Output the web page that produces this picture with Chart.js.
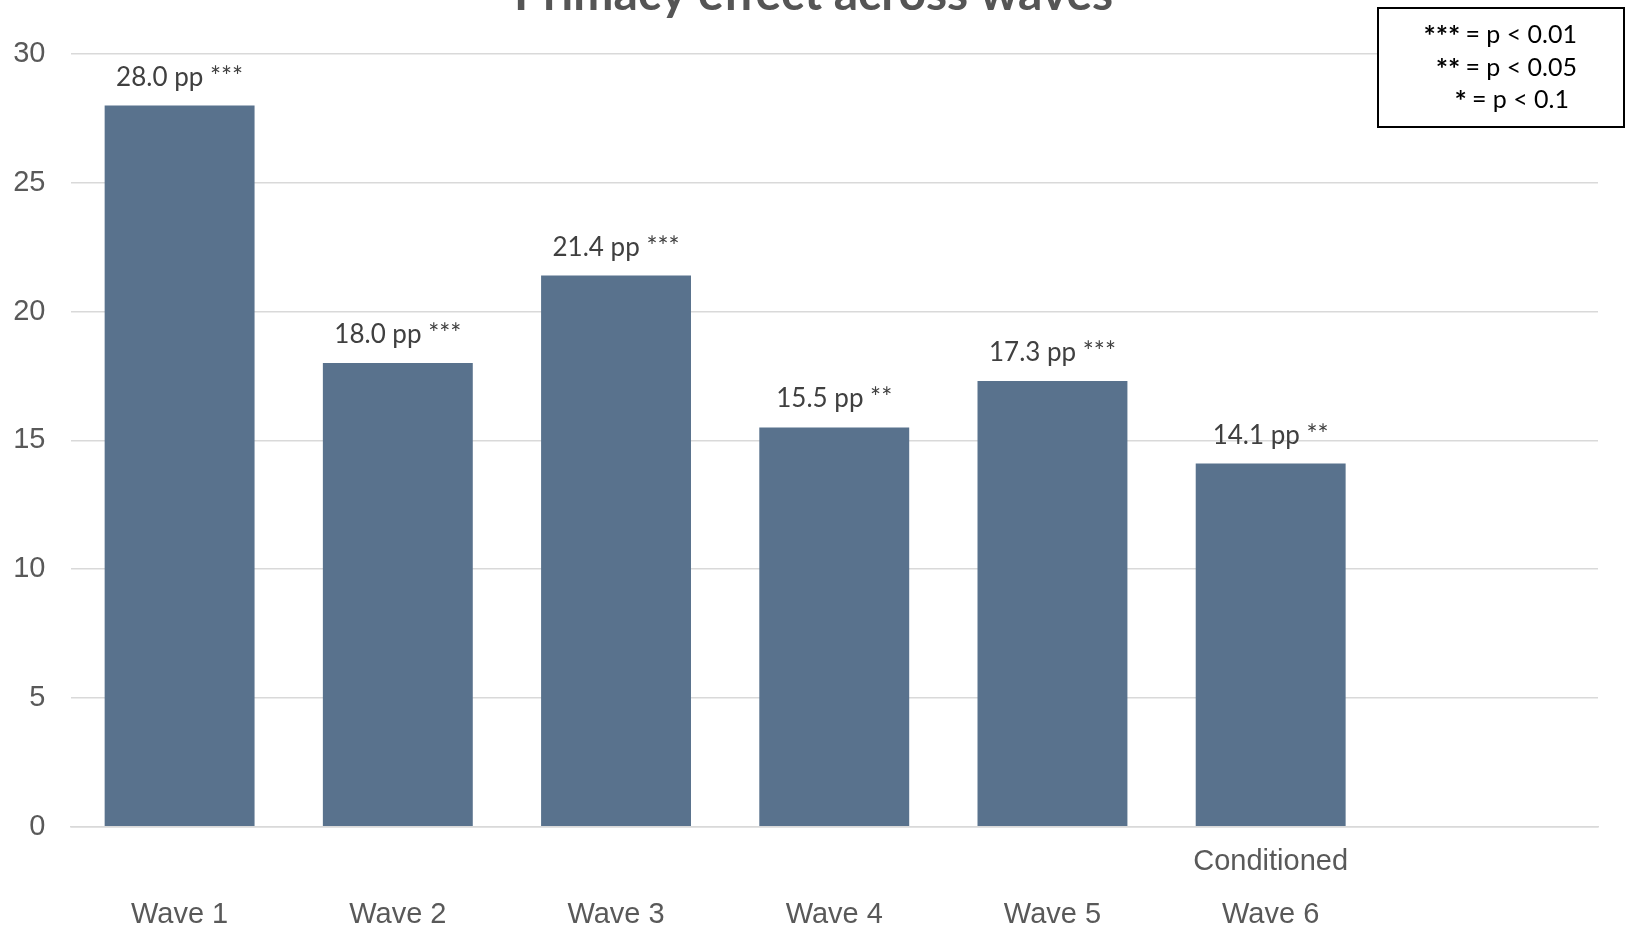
<!DOCTYPE html>
<html>
<head>
<meta charset="utf-8">
<title>Primacy effect across waves</title>
<script src="https://cdn.jsdelivr.net/npm/chart.js@4"></script>
<style>
  html, body { margin: 0; padding: 0; background: #ffffff; overflow: hidden; }
  #chart { display: block; }
</style>
</head>
<body>
<canvas id="chart" width="1627" height="930"></canvas>
<script>
// Survey waves (the last slot is left empty on purpose)
const waves = ['Wave 1', 'Wave 2', 'Wave 3', 'Wave 4', 'Wave 5', 'Wave 6', ''];
const waveNotes = ['', '', '', '', '', 'Conditioned', ''];
// Primacy effect in percentage points
const effectPP = [28.0, 18.0, 21.4, 15.5, 17.3, 14.1, null];
const significance = ['***', '***', '***', '**', '***', '**', ''];
// Y axis range
const yMin = 0;
const yMax = 30;
const yStep = 5;
// Significance key
const keyStars = ['***', '**', '*'];
const keyText = ['= p < 0.01', '= p < 0.05', '= p < 0.1'];

const chartTitle = 'Primacy effect across waves';
const BAR_COLOR = '#59728d';
const GRID_COLOR = '#d9d9d9';
const AXIS_TEXT = '#595959';

const titlePlugin = {
  id: 'topTitle',
  afterDraw(chart) {
    const { ctx } = chart;
    ctx.save();
    ctx.font = 'bold 48px Lato';
    ctx.fillStyle = '#555555';
    ctx.textAlign = 'center';
    ctx.textBaseline = 'alphabetic';
    ctx.fillText(chartTitle, chart.width / 2, 10);
    ctx.restore();
  }
};

const barLabelPlugin = {
  id: 'barLabels',
  afterDatasetsDraw(chart) {
    const { ctx } = chart;
    const meta = chart.getDatasetMeta(0);
    ctx.save();
    ctx.font = '26px Lato';
    ctx.fillStyle = '#404040';
    ctx.textAlign = 'center';
    ctx.textBaseline = 'alphabetic';
    meta.data.forEach((bar, i) => {
      const v = effectPP[i];
      if (v === null || v === undefined) return;
      ctx.fillText(v.toFixed(1) + ' pp ' + significance[i], bar.x, bar.y - 20);
    });
    ctx.restore();
  }
};

const keyPlugin = {
  id: 'sigKey',
  afterDraw(chart) {
    const { ctx } = chart;
    const box = { x: 1378, y: 8, w: 246, h: 119 };
    const rightEdges = [1577, 1577, 1569];
    const baselines = [43, 76, 108];
    ctx.save();
    ctx.fillStyle = '#ffffff';
    ctx.fillRect(box.x, box.y, box.w, box.h);
    ctx.lineWidth = 2;
    ctx.strokeStyle = '#000000';
    ctx.strokeRect(box.x, box.y, box.w, box.h);
    ctx.fillStyle = '#000000';
    ctx.textAlign = 'right';
    ctx.textBaseline = 'alphabetic';
    keyText.forEach((t, i) => {
      ctx.font = '25px Lato';
      ctx.fillText(t, rightEdges[i], baselines[i]);
      const w = ctx.measureText(t).width + 5;
      ctx.font = 'bold 29px Lato';
      ctx.fillText(keyStars[i], rightEdges[i] - w, baselines[i] + 3);
    });
    ctx.restore();
  }
};

function build() {
  new Chart(document.getElementById('chart'), {
    type: 'bar',
    data: {
      labels: waves,
      datasets: [{
        data: effectPP,
        backgroundColor: BAR_COLOR,
        borderWidth: 0,
        categoryPercentage: 1.0,
        barPercentage: 0.687
      }]
    },
    options: {
      responsive: false,
      animation: false,
      devicePixelRatio: 1,
      layout: { padding: { left: 13, right: 29, top: 54, bottom: 0 } },
      plugins: {
        legend: { display: false },
        title: { display: false },
        tooltip: { enabled: false }
      },
      scales: {
        x: {
          grid: { display: false, drawTicks: false },
          border: { display: true, color: GRID_COLOR, width: 1.5 },
          ticks: {
            color: AXIS_TEXT,
            font: { family: 'Liberation Sans', size: 29, lineHeight: 1.826 },
            padding: 9,
            maxRotation: 0,
            autoSkip: false,
            callback: (value, index) => [waveNotes[index], waves[index]]
          },
          afterFit: (scale) => {
            scale.height = 103.3;
            scale.paddingLeft = 0;
            scale.paddingRight = 0;
          }
        },
        y: {
          min: yMin,
          max: yMax,
          grid: { color: GRID_COLOR, lineWidth: 1.5, drawTicks: false },
          border: { display: false },
          ticks: {
            stepSize: yStep,
            color: AXIS_TEXT,
            font: { family: 'Liberation Sans', size: 29 },
            padding: 25
          },
          afterFit: (scale) => {
            scale.width = 57.5;
          }
        }
      }
    },
    plugins: [barLabelPlugin, titlePlugin, keyPlugin]
  });
}

Promise.all([
  document.fonts.load('26px Lato'),
  document.fonts.load('bold 48px Lato'),
  document.fonts.load('29px "Liberation Sans"')
]).then(build, build);
</script>
</body>
</html>
